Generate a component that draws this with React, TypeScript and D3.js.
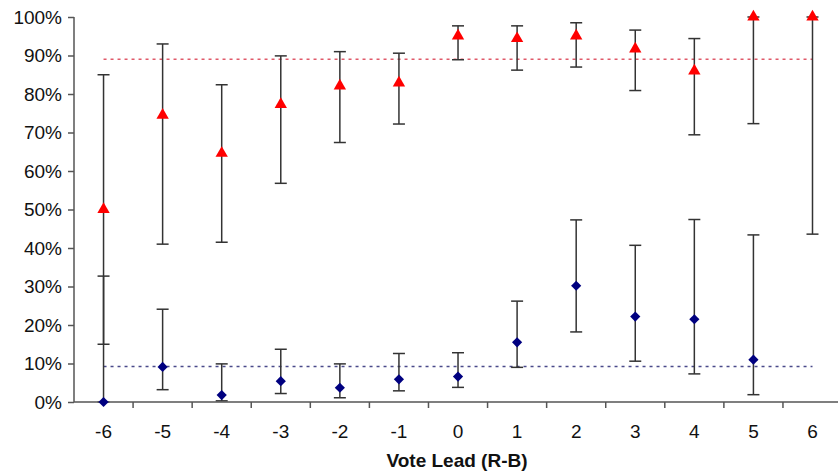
import React, { useEffect, useRef } from "react";
import * as d3 from "d3";

// vote lead categories
const leads = ["-6", "-5", "-4", "-3", "-2", "-1", "0", "1", "2", "3", "4", "5", "6"];

// red series (triangles) with interval bounds, in %
const redVal = [50, 74.5, 64.6, 77.3, 82.1, 82.9, 95.1, 94.4, 95.1, 91.7, 86, 100, 100];
const redHi = [85, 93, 82.4, 89.9, 91, 90.6, 97.7, 97.7, 98.5, 96.6, 94.4, 100, 100];
const redLo = [15, 41, 41.5, 56.8, 67.4, 72.2, 88.9, 86.2, 87, 80.9, 69.4, 72.3, 43.6];

// blue series (diamonds); no point at +6
const blueVal = [0, 9.1, 1.8, 5.4, 3.7, 5.9, 6.6, 15.5, 30.2, 22.2, 21.5, 11, null];
const blueHi = [32.7, 24.1, 9.9, 13.7, 9.9, 12.6, 12.8, 26.2, 47.3, 40.7, 47.4, 43.4, null];
const blueLo = [0, 3.2, 0.3, 2.2, 1.1, 2.9, 3.8, 9, 18.2, 10.6, 7.3, 1.9, null];

// overall averages (dotted lines)
const redAvg = 89;
const blueAvg = 9.2;

const yTicks = [0, 10, 20, 30, 40, 50, 60, 70, 80, 90, 100];

function App() {
  const svgRef = useRef<SVGSVGElement>(null);

  useEffect(() => {
    const svg = d3.select(svgRef.current);
    svg.selectAll("*").remove();

    const width = 838;
    const height = 474;
    const margin = { top: 17, left: 74, bottom: 72 };
    const plotBottom = height - margin.bottom;
    const font = "Arial, 'Liberation Sans', sans-serif";

    const x = d3.scaleBand().domain(leads).range([margin.left, margin.left + 59.08 * leads.length]).padding(0);
    const y = d3.scaleLinear().domain([0, 100]).range([plotBottom, margin.top]);
    const cx = (d: string) => (x(d) as number) + x.bandwidth() / 2;

    // dotted average lines
    const first = cx(leads[0]);
    const last = cx(leads[leads.length - 1]);
    svg.append("line")
      .attr("x1", first).attr("x2", last)
      .attr("y1", y(redAvg)).attr("y2", y(redAvg))
      .attr("stroke", "#e05a6a").attr("stroke-width", 1.5)
      .attr("stroke-dasharray", "3,4");
    svg.append("line")
      .attr("x1", first).attr("x2", last)
      .attr("y1", y(blueAvg)).attr("y2", y(blueAvg))
      .attr("stroke", "#4a4a8a").attr("stroke-width", 1.5)
      .attr("stroke-dasharray", "3,4");

    // error bars
    const drawBars = (lo: (number | null)[], hi: (number | null)[]) => {
      const g = svg.append("g").attr("stroke", "#333").attr("stroke-width", 1.5);
      leads.forEach((d, i) => {
        if (lo[i] == null || hi[i] == null) return;
        const xc = cx(d);
        g.append("line").attr("x1", xc).attr("x2", xc).attr("y1", y(lo[i] as number)).attr("y2", y(hi[i] as number));
        [lo[i], hi[i]].forEach(v => {
          g.append("line").attr("x1", xc - 6).attr("x2", xc + 6)
            .attr("y1", y(v as number)).attr("y2", y(v as number));
        });
      });
    };
    drawBars(redLo, redHi);
    drawBars(blueLo, blueHi);

    // axes
    const yAxis = svg.append("g")
      .attr("transform", `translate(${margin.left},0)`)
      .call(d3.axisLeft(y).tickValues(yTicks).tickFormat(d => `${d}%`).tickSize(6).tickPadding(6));
    yAxis.selectAll("path, line").attr("stroke", "#555").attr("stroke-width", 1.5);
    yAxis.select(".domain").attr("d", `M0,${margin.top}V${plotBottom}`);
    yAxis.selectAll("text").attr("font-family", font).attr("font-size", 19).attr("fill", "#111");

    const xAxis = svg.append("g").attr("transform", `translate(0,${plotBottom})`);
    xAxis.append("line")
      .attr("x1", margin.left).attr("x2", width)
      .attr("stroke", "#555").attr("stroke-width", 1.5);
    xAxis.selectAll(".tk")
      .data(leads.slice(1))
      .enter()
      .append("line")
      .attr("x1", d => x(d) as number).attr("x2", d => x(d) as number)
      .attr("y1", 0).attr("y2", 6)
      .attr("stroke", "#555").attr("stroke-width", 1.5);
    xAxis.selectAll(".lbl")
      .data(leads)
      .enter()
      .append("text")
      .attr("x", d => cx(d))
      .attr("y", 36)
      .attr("text-anchor", "middle")
      .attr("font-family", font)
      .attr("font-size", 19)
      .attr("fill", "#111")
      .text(d => d);

    svg.append("text")
      .attr("x", 457)
      .attr("y", 467)
      .attr("text-anchor", "middle")
      .attr("font-family", font)
      .attr("font-weight", "bold")
      .attr("font-size", 19)
      .attr("fill", "#111")
      .text("Vote Lead (R-B)");

    // markers
    svg.append("g").selectAll("path")
      .data(leads.map((d, i) => ({ d, v: redVal[i] })))
      .enter()
      .append("path")
      .attr("d", d3.symbol().type(d3.symbolTriangle).size(66)())
      .attr("transform", p => `translate(${cx(p.d)},${y(p.v)})`)
      .attr("fill", "#ff0000");

    svg.append("g").selectAll("path")
      .data(leads.map((d, i) => ({ d, v: blueVal[i] })).filter(p => p.v != null))
      .enter()
      .append("path")
      .attr("d", d3.symbol().type(d3.symbolSquare).size(52)())
      .attr("transform", p => `translate(${cx(p.d)},${y(p.v as number)}) rotate(45)`)
      .attr("fill", "#000080");
  }, []);

  return (
    <svg ref={svgRef} width={838} height={474}
      style={{ position: "absolute", left: 0, top: 0, background: "#fff" }} />
  );
}

export default App;
